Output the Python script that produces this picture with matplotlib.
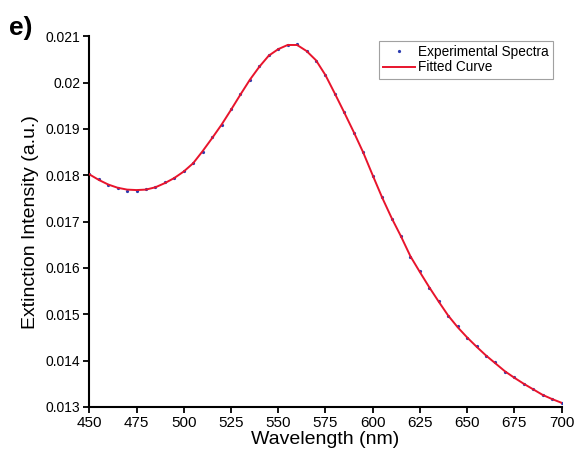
import matplotlib
matplotlib.use("Agg")
import matplotlib.pyplot as plt
import numpy as np

plt.rcParams['font.family'] = ['Liberation Sans', 'DejaVu Sans']

# Data
wavelength = np.arange(450, 701, 5)
fitted = [0.01802, 0.01790, 0.01780, 0.01773, 0.01769, 0.01768, 0.01769, 0.01774,
          0.01783, 0.01794, 0.01808, 0.01826, 0.01852, 0.01880, 0.01909, 0.01941,
          0.01974, 0.02006, 0.02034, 0.02058, 0.02072, 0.02081, 0.02081, 0.02068,
          0.02048, 0.02016, 0.01976, 0.01935, 0.01893, 0.01849, 0.01800, 0.01752,
          0.01708, 0.01668, 0.01625, 0.01591, 0.01558, 0.01527, 0.01497, 0.01472,
          0.01450, 0.01430, 0.01411, 0.01394, 0.01377, 0.01363, 0.01350, 0.01338,
          0.01326, 0.01317, 0.01309]
experimental = [0.01803, 0.01791, 0.01778, 0.01772, 0.01767, 0.01766, 0.01771, 0.01775,
                0.01785, 0.01793, 0.01810, 0.01827, 0.01851, 0.01882, 0.01908, 0.01942,
                0.01975, 0.02005, 0.02035, 0.02059, 0.02073, 0.02080, 0.02083, 0.02069,
                0.02047, 0.02017, 0.01975, 0.01937, 0.01892, 0.01850, 0.01799, 0.01753,
                0.01706, 0.01669, 0.01624, 0.01593, 0.01557, 0.01528, 0.01496, 0.01474,
                0.01449, 0.01432, 0.01410, 0.01396, 0.01375, 0.01364, 0.01349, 0.01339,
                0.01325, 0.01318, 0.01308]
xticks = [450, 475, 500, 525, 550, 575, 600, 625, 650, 675, 700]
yticks = [0.013, 0.014, 0.015, 0.016, 0.017, 0.018, 0.019, 0.02, 0.021]
ytick_labels = ["0.013", "0.014", "0.015", "0.016", "0.017", "0.018", "0.019", "0.02", "0.021"]

fig = plt.figure(figsize=(5.76, 4.58), dpi=100)
ax = fig.add_axes([0.155, 0.1114, 0.820, 0.8096])

ax.plot(wavelength, experimental, linestyle='none', marker='o', markersize=1.3,
        color='#2b3bb0', label='Experimental Spectra', zorder=2)
ax.plot(wavelength, fitted, color='#e8142c', linewidth=1.4, label='Fitted Curve', zorder=3)

ax.set_xlim(450, 700)
ax.set_ylim(0.013, 0.021)
ax.set_xticks(xticks)
ax.set_xticklabels([str(t) for t in xticks])
ax.set_yticks(yticks)
ax.set_yticklabels(ytick_labels)

for s in ['top', 'right']:
    ax.spines[s].set_visible(False)
for s in ['left', 'bottom']:
    ax.spines[s].set_linewidth(1.5)
ax.tick_params(direction='out', length=4, width=1.3, pad=2.5)
ax.tick_params(axis='x', labelsize=11)
ax.tick_params(axis='y', labelsize=10)

ax.set_xlabel('Wavelength (nm)', fontsize=14, labelpad=1)
ax.set_ylabel('Extinction Intensity (a.u.)', fontsize=14, labelpad=5)

leg = ax.legend(loc='upper right', bbox_to_anchor=(553/576, 1-41/458),
                bbox_transform=fig.transFigure, fontsize=9.8, frameon=True,
                fancybox=False, borderaxespad=0, handlelength=2.35,
                handletextpad=0.25, borderpad=0.3, labelspacing=0.1, markerscale=1.0)
leg.get_frame().set_edgecolor('#8a8a8a')
leg.get_frame().set_linewidth(0.8)

fig.text(0.015, 0.965, 'e)', fontsize=19, fontweight='bold', ha='left', va='top')

fig.savefig('out.png', dpi=100)
